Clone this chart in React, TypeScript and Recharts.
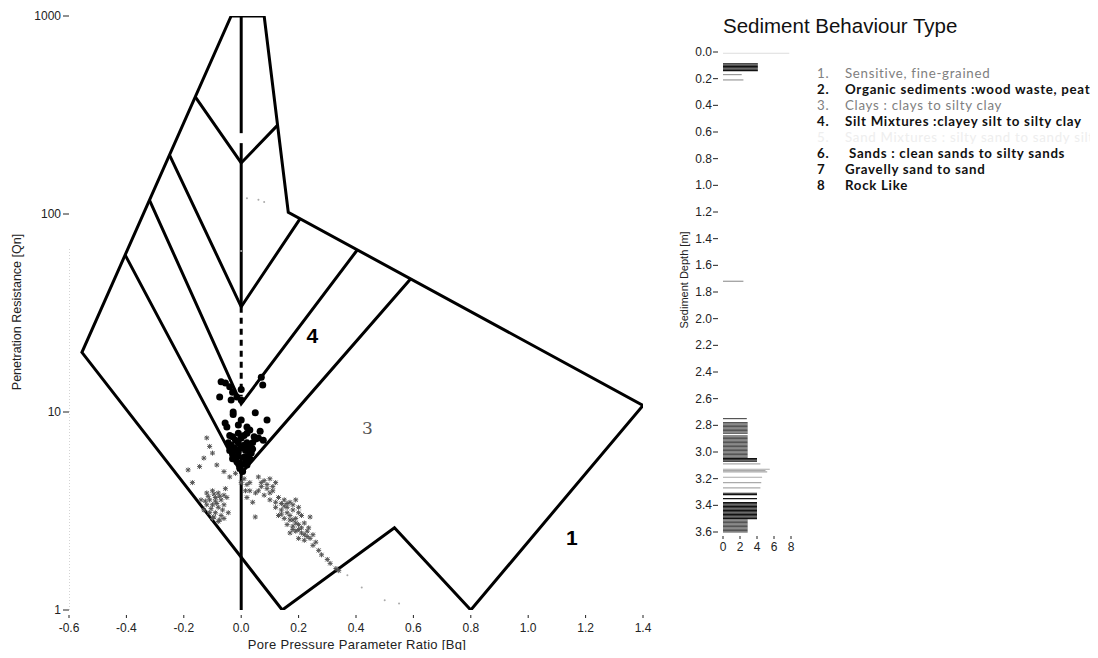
import React from 'react';
import {
  ScatterChart,
  Scatter,
  XAxis,
  YAxis,
  ComposedChart,
  Bar,
  Cell,
} from 'recharts';

// ---- main SBT chart (Bq vs Qn) ----
const BQ_TICKS = [-0.6, -0.4, -0.2, 0, 0.2, 0.4, 0.6, 0.8, 1.0, 1.2, 1.4];
const QN_TICKS = [1, 10, 100, 1000];

// zone boundaries
const outerBoundary = [
  { x: -0.035, q: 1000 }, { x: 0.08, q: 1000 }, { x: 0.164, q: 102 }, { x: 1.4, q: 10.8 },
  { x: 0.8, q: 1 }, { x: 0.534, q: 2.6 }, { x: 0.143, q: 1 }, { x: -0.555, q: 20 },
  { x: -0.035, q: 1000 },
];
const zoneV1 = [{ x: -0.16, q: 390 }, { x: 0, q: 181 }, { x: 0.127, q: 281 }];
const zoneV2 = [{ x: -0.25, q: 199 }, { x: 0, q: 34 }, { x: 0.206, q: 95 }];
const zoneV3 = [{ x: -0.32, q: 118 }, { x: 0, q: 11 }, { x: 0.405, q: 66 }];
const zoneV4 = [{ x: -0.404, q: 62 }, { x: 0, q: 4.9 }, { x: 0.59, q: 47 }];
const centreTop = [{ x: 0, q: 1000 }, { x: 0, q: 256 }];
const centreMid = [{ x: 0, q: 228 }, { x: 0, q: 34 }];
const centreDashed = [{ x: 0, q: 34 }, { x: 0, q: 12 }];
const centreLow = [{ x: 0, q: 6 }, { x: 0, q: 1 }];
const axisDots = [{ x: -0.6, q: 1 }, { x: -0.6, q: 68 }];

// measured points: [Bq, Qn]
const fineDots = [
  [-0.07, 14.2], [-0.055, 14.0], [-0.04, 13.4], [-0.03, 12.6], [-0.075, 11.9], [-0.035, 11.5],
  [-0.015, 11.9], [0.0, 11.5], [0.07, 15.0], [0.075, 13.7], [-0.028, 10.0], [-0.028, 9.7],
  [0.049, 9.9], [-0.056, 8.8], [-0.05, 8.4], [0.09, 9.1], [0.0, 9.1], [0.066, 8.0],
  [0.05, 7.3], [0.06, 7.4], [0.077, 7.2], [-0.01, 7.8], [0.03, 8.1], [-0.03, 7.5],
  [-0.02, 7.2], [-0.01, 7.0], [0.0, 7.4], [0.01, 7.6], [0.02, 7.8], [-0.035, 6.8],
  [-0.02, 6.5], [0.0, 6.6], [0.015, 6.4], [0.03, 6.7], [-0.03, 6.1], [-0.01, 6.0],
  [0.01, 5.9], [0.025, 6.0], [-0.015, 5.6], [0.0, 5.4], [0.015, 5.6], [-0.005, 5.2],
  [0.04, 7.0], [0.035, 6.2], [-0.04, 6.4], [0.0, 13.0], [-0.045, 7.0], [-0.04, 7.6],
  [0.045, 7.5], [0.02, 7.0], [-0.025, 6.6], [0.025, 6.6], [-0.01, 6.3], [0.01, 6.8],
  [0.04, 6.5], [-0.02, 5.9], [0.02, 5.4], [0.005, 5.0], [0.03, 5.8], [-0.03, 5.8],
  [0.02, 8.4], [-0.01, 8.6],
];
const sandPoints = [
  [-0.12, 3.9], [-0.1, 4.0], [-0.08, 3.9], [-0.06, 3.8], [-0.11, 3.6], [-0.09, 3.7], [-0.07, 3.6],
  [-0.05, 3.7], [-0.12, 3.4], [-0.1, 3.4], [-0.08, 3.3], [-0.06, 3.4], [-0.11, 3.1], [-0.09, 3.1],
  [-0.07, 3.0], [-0.1, 2.9], [-0.08, 2.8], [-0.06, 2.9], [-0.13, 3.2], [-0.055, 4.1], [-0.14, 3.6],
  [-0.115, 3.75], [-0.095, 3.85], [-0.075, 3.75], [-0.105, 3.25], [-0.085, 3.45], [-0.065, 3.2],
  [-0.095, 2.95], [-0.075, 2.85], [-0.125, 3.55], [-0.09, 3.55],
  [0.01, 4.6], [0.02, 4.3], [0.03, 4.0], [0.02, 3.7], [0.04, 3.5], [0.06, 4.7], [0.08, 4.5],
  [0.1, 4.6], [0.12, 4.4], [0.07, 4.2], [0.09, 4.1], [0.11, 4.0], [0.05, 3.9], [0.08, 3.8],
  [0.1, 3.6], [0.12, 3.5], [0.07, 4.4], [0.09, 4.3], [0.11, 4.2], [0.06, 4.0], [0.1, 3.9],
  [0.03, 4.4], [0.015, 4.0],
  [0.13, 3.7], [0.15, 3.6], [0.17, 3.5], [0.19, 3.6], [0.12, 3.3],
  [0.14, 3.2], [0.16, 3.3], [0.18, 3.2], [0.2, 3.3], [0.13, 3.0], [0.15, 2.9], [0.17, 3.0],
  [0.19, 2.9], [0.21, 3.0], [0.16, 2.7], [0.18, 2.65], [0.2, 2.7], [0.22, 2.75], [0.17, 2.45],
  [0.19, 2.5], [0.21, 2.45], [0.23, 2.5], [0.2, 2.3], [0.22, 2.25], [0.24, 2.3],
  [0.14, 3.45], [0.16, 3.1], [0.18, 3.4], [0.15, 3.35], [0.18, 2.85], [0.2, 3.1], [0.19, 2.75],
  [0.21, 2.6], [0.2, 2.55], [0.22, 2.4], [0.18, 2.55], [0.17, 2.85], [0.23, 2.35], [0.26, 2.2],
  [0.25, 2.4], [0.16, 3.45], [0.14, 3.05],
  [0.25, 2.12], [0.27, 2.0], [0.28, 1.9], [0.3, 1.8], [0.31, 1.72], [0.33, 1.62], [0.34, 1.58],
  [0.24, 2.95], [0.235, 2.6], [0.049, 2.95], [-0.045, 3.1], [-0.12, 7.4], [-0.11, 6.7],
  [-0.13, 5.85], [-0.145, 5.3], [-0.185, 5.1], [-0.17, 4.4], [-0.085, 5.4], [-0.04, 4.7],
  [-0.06, 5.0], [-0.1, 6.2], [-0.02, 4.9], [0.0, 4.4],
];
const faintPoints = [
  [0.37, 1.5], [0.42, 1.3], [0.5, 1.12], [0.55, 1.08], [0.02, 120], [0.06, 118], [0.08, 115], [0.0, 65],
];
const zoneLabels = [
  { text: '4', x: 0.248, q: 24.2 },
  { text: '3', x: 0.44, q: 8.3 },
  { text: '1', x: 1.152, q: 2.31 },
];

// ---- depth strip (1 cm readings where the log is dense) ----
const DEPTH_TICKS = [0, 0.2, 0.4, 0.6, 0.8, 1.0, 1.2, 1.4, 1.6, 1.8, 2.0, 2.2, 2.4, 2.6, 2.8, 3.0, 3.2, 3.4, 3.6];
const SBT_TICKS = [0, 2, 4, 6, 8];
const stripDepth = [
  0.01, 0.09, 0.1, 0.11, 0.12, 0.13, 0.14, 0.17, 0.21, 1.72, 2.75,
  2.78, 2.79, 2.8, 2.81, 2.82, 2.83, 2.84, 2.85, 2.86,
  2.88, 2.89, 2.9, 2.91, 2.92, 2.93, 2.94, 2.95, 2.96, 2.97, 2.98, 2.99, 3.0, 3.01, 3.02, 3.03, 3.04,
  3.05, 3.06, 3.07, 3.09, 3.13, 3.14, 3.15, 3.19, 3.23, 3.27, 3.31, 3.32, 3.35,
  3.38, 3.39, 3.4, 3.41, 3.42, 3.43, 3.44, 3.45, 3.46, 3.47, 3.48, 3.49, 3.5,
  3.51, 3.52, 3.53, 3.54, 3.55, 3.56, 3.57, 3.58, 3.59, 3.6,
];
const stripValue = [
  7.8, 4.1, 4.1, 4.1, 4.1, 4.1, 4.1, 2.2, 2.4, 2.4, 2.8,
  2.9, 2.9, 2.9, 2.9, 2.9, 2.9, 2.9, 2.9, 2.9,
  2.9, 2.9, 2.9, 2.9, 2.9, 2.9, 2.9, 2.9, 2.9, 2.9, 2.9, 2.9, 2.9, 2.9, 2.9, 2.9, 2.9,
  4.0, 4.0, 4.0, 4.4, 5.5, 5.0, 5.2, 4.6, 4.5, 4.4, 4.0, 4.0, 4.0,
  4.0, 4.0, 4.0, 4.0, 4.0, 4.0, 4.0, 4.0, 4.0, 4.0, 4.0, 4.0, 4.0,
  2.9, 2.9, 2.9, 2.9, 2.9, 2.9, 2.9, 2.9, 2.9, 2.9,
];
const stripData = stripDepth.map((depth, i) => ({ depth, value: stripValue[i] }));

// ---- legend ----
const legendNums = ['1.', '2.', '3.', '4.', '5.', '6.', '7', '8'];
const legendTexts = [
  'Sensitive, fine-grained',
  'Organic sediments :wood waste, peat',
  'Clays : clays to silty clay',
  'Silt Mixtures :clayey silt to silty clay',
  'Sand Mixtures : silty sand to sandy silt',
  ' Sands : clean sands to silty sands',
  'Gravelly sand to sand',
  'Rock Like',
];

const FONT = '"Liberation Sans", Arial, sans-serif';
const toPts = (arr: number[][]) => arr.map(([x, q]) => ({ x, q }));
const none = () => <g />;

const stripFill = (v: number) => {
  if (v >= 6) return '#dddddd';
  if (v >= 4.2) return '#aaaaaa';
  if (v >= 3.5) return '#111111';
  if (v >= 2.5) return '#555555';
  return '#999999';
};

const BqTick = ({ x, y, payload }: any) => (
  <g>
    <line x1={x} x2={x} y1={y - 3} y2={y} stroke="#222" />
    <text x={x} y={y + 14} textAnchor="middle" fontSize={12} fill="#222" fontFamily={FONT}>
      {Number(payload.value).toFixed(1)}
    </text>
  </g>
);

const SbtTick = ({ x, y, payload }: any) => (
  <g>
    <line x1={x} x2={x} y1={y - 4} y2={y - 1} stroke="#222" />
    <text x={x} y={y + 11} textAnchor="middle" fontSize={12} fill="#222" fontFamily={FONT}>
      {payload.value}
    </text>
  </g>
);

const DepthTick = ({ x, y, payload }: any) => (
  <g>
    <text x={x - 3} y={y} dy={4} textAnchor="end" fontSize={12} fill="#222" fontFamily={FONT}>
      {Number(payload.value).toFixed(1)}
    </text>
    <line x1={x - 2} x2={x + 3} y1={y} y2={y} stroke="#222" />
  </g>
);

const line = (stroke: string, strokeWidth: number, dash?: string) => ({
  stroke,
  strokeWidth,
  strokeDasharray: dash,
  fill: 'none',
});

export default function App() {
  return (
    <div style={{ position: 'relative', width: 1098, height: 658, margin: -8, background: '#fff' }}>
      <div style={{ position: 'absolute', left: 0, top: 0 }}>
        <ScatterChart width={660} height={658} margin={{ top: 16, right: 17, bottom: 8, left: 9 }}>
          <XAxis
            type="number"
            dataKey="x"
            domain={[-0.6, 1.4]}
            ticks={BQ_TICKS}
            interval={0}
            height={40}
            axisLine={false}
            tickLine={false}
            tickSize={6}
            tick={BqTick}
            allowDataOverflow
          />
          <YAxis
            type="number"
            dataKey="q"
            scale="log"
            domain={[1, 1000]}
            ticks={QN_TICKS}
            interval={0}
            width={60}
            axisLine={false}
            tickLine={{ stroke: '#222' }}
            tick={{ fontSize: 12, fill: '#222', fontFamily: FONT }}
            allowDataOverflow
          />
          <Scatter data={axisDots} line={line('#aaa', 1, '1 2')} shape={none} isAnimationActive={false} />
          <Scatter data={outerBoundary} line={line('#000', 3)} shape={none} isAnimationActive={false} />
          <Scatter data={zoneV1} line={line('#000', 3)} shape={none} isAnimationActive={false} />
          <Scatter data={zoneV2} line={line('#000', 3)} shape={none} isAnimationActive={false} />
          <Scatter data={zoneV3} line={line('#000', 3)} shape={none} isAnimationActive={false} />
          <Scatter data={zoneV4} line={line('#000', 3)} shape={none} isAnimationActive={false} />
          <Scatter data={centreTop} line={line('#000', 3)} shape={none} isAnimationActive={false} />
          <Scatter data={centreMid} line={line('#000', 3)} shape={none} isAnimationActive={false} />
          <Scatter data={centreDashed} line={line('#000', 3, '6 5')} shape={none} isAnimationActive={false} />
          <Scatter data={centreLow} line={line('#000', 3)} shape={none} isAnimationActive={false} />
          <Scatter
            data={toPts(faintPoints)}
            isAnimationActive={false}
            shape={(p: any) => <circle cx={p.cx} cy={p.cy} r={1} fill="#aaa" />}
          />
          <Scatter
            data={toPts(sandPoints)}
            isAnimationActive={false}
            shape={(p: any) => (
              <path
                d={`M${p.cx - 2},${p.cy - 2}l4,4m0,-4l-4,4M${p.cx - 2.5},${p.cy}h5M${p.cx},${p.cy - 2.5}v5`}
                stroke="#555"
                strokeWidth={1}
                fill="none"
              />
            )}
          />
          <Scatter
            data={toPts(fineDots)}
            isAnimationActive={false}
            shape={(p: any) => <circle cx={p.cx} cy={p.cy} r={3.5} fill="#000" />}
          />
          <Scatter
            data={zoneLabels}
            isAnimationActive={false}
            shape={(p: any) => {
              const thin = p.payload.text === '3';
              return (
                <text
                  x={p.cx}
                  y={p.cy}
                  dy={thin ? 6 : 7}
                  textAnchor="middle"
                  fontSize={thin ? 17 : 21}
                  fontWeight={thin ? 'normal' : 'bold'}
                  fill={thin ? '#555' : '#000'}
                  fontFamily={thin ? '"DejaVu Serif", serif' : FONT}
                >
                  {p.payload.text}
                </text>
              );
            }}
          />
        </ScatterChart>
      </div>

      <div style={{ position: 'absolute', left: 680, top: 0 }}>
        <ComposedChart
          layout="vertical"
          width={120}
          height={658}
          data={stripData}
          barCategoryGap={0}
          barGap={0}
          margin={{ top: 52, right: 9, bottom: 106, left: 0 }}
        >
          <XAxis
            type="number"
            domain={[0, 8]}
            ticks={SBT_TICKS}
            interval={0}
            height={20}
            axisLine={false}
            tickLine={false}
            tickSize={6}
            tick={SbtTick}
          />
          <YAxis
            type="number"
            dataKey="depth"
            domain={[0, 3.6]}
            ticks={DEPTH_TICKS}
            interval={0}
            width={43}
            axisLine={false}
            tickLine={false}
            tickSize={6}
            tick={DepthTick}
          />
          <Bar dataKey="value" barSize={3} isAnimationActive={false}>
            {stripData.map((d, i) => (
              <Cell key={i} fill={stripFill(d.value)} />
            ))}
          </Bar>
        </ComposedChart>
      </div>

      <svg
        width={1098}
        height={658}
        style={{ position: 'absolute', left: 0, top: 0, pointerEvents: 'none' }}
      >
        <text x={357} y={649} textAnchor="middle" fontSize={13} letterSpacing={0.3} fill="#222" fontFamily={FONT}>
          Pore Pressure Parameter Ratio  [Bq]
        </text>
        <text
          transform="translate(21,312) rotate(-90)"
          textAnchor="middle"
          fontSize={12.5}
          fill="#222"
          fontFamily={FONT}
        >
          Penetration Resistance [Qn]
        </text>
        <text
          transform="translate(688,280) rotate(-90)"
          textAnchor="middle"
          fontSize={11}
          fill="#222"
          fontFamily={FONT}
        >
          Sediment Depth [m]
        </text>
        <text x={723} y={33} fontSize={20.5} fill="#111" fontFamily={FONT}>
          Sediment Behaviour Type
        </text>
        {legendTexts.map((t, i) => {
          const faint = i === 4;
          const grey = i === 0 || i === 2;
          const fill = faint ? '#eeeeee' : grey ? '#808080' : '#111';
          const weight = grey || faint ? 'normal' : 'bold';
          const y = 78 + i * 16;
          return (
            <g
              key={i}
              fontFamily="Lato, 'Open Sans', sans-serif"
              fontSize={13.3}
              letterSpacing={0.7}
              fill={fill}
              fontWeight={weight}
            >
              <text x={817} y={y}>{legendNums[i]}</text>
              <text x={t.startsWith(' ') ? 849 : 845} y={y}>{t.trim()}</text>
            </g>
          );
        })}
      </svg>
    </div>
  );
}
